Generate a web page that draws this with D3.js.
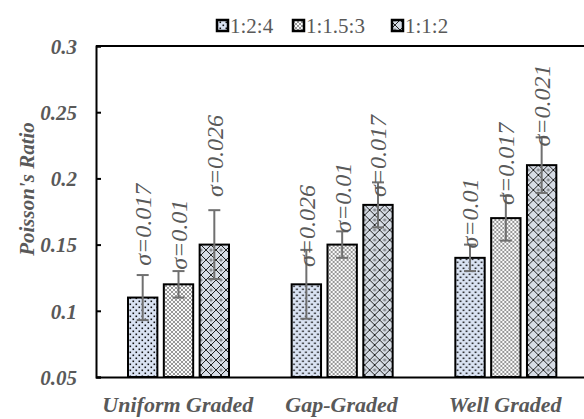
<!DOCTYPE html>
<html>
<head>
<meta charset="utf-8">
<script src="https://cdn.jsdelivr.net/npm/d3@7/dist/d3.min.js"></script>
<style>
  html, body { margin: 0; padding: 0; background: #fff; overflow: hidden; }
  svg { display: block; }
</style>
</head>
<body>
<svg id="chart" width="584" height="419"></svg>
<script>
// Poisson's ratio by gradation and mix proportion
const categories = ["Uniform Graded", "Gap-Graded", "Well Graded"];
const seriesNames = ["1:2:4", "1:1.5:3", "1:1:2"];
const mix124 = [0.11, 0.12, 0.14];
const mix1153 = [0.12, 0.15, 0.17];
const mix112 = [0.15, 0.18, 0.21];
const sigma124 = [0.017, 0.026, 0.01];
const sigma1153 = [0.01, 0.01, 0.017];
const sigma112 = [0.026, 0.017, 0.021];
// value at which each σ label begins
const labelAt124 = [0.134, 0.133, 0.147];
const labelAt1153 = [0.131, 0.159, 0.180];
const labelAt112 = [0.186, 0.186, 0.224];
const yTicks = [0.05, 0.1, 0.15, 0.2, 0.25, 0.3];
const yTickLabels = ["0.05", "0.1", "0.15", "0.2", "0.25", "0.3"];

const seriesValues = [mix124, mix1153, mix112];
const seriesSigma = [sigma124, sigma1153, sigma112];
const seriesLabelAt = [labelAt124, labelAt1153, labelAt112];

const svg = d3.select("#chart");
const serif = "\"Liberation Serif\", \"Times New Roman\", serif";
const grey = "#595959";

const plot = { left: 96, right: 587, top: 46, bottom: 377 };

const y = d3.scaleLinear().domain([0.05, 0.3]).range([plot.bottom, plot.top]);
const x0 = d3.scaleBand().domain(categories).range([plot.left, plot.right]).paddingInner(0).paddingOuter(0);
const groupInset = 32;
const x1 = d3.scaleBand().domain(seriesNames)
  .range([groupInset, groupInset + 101]).paddingInner(0.18).paddingOuter(0);

function textStyle(sel, size, bold, italic) {
  return sel.style("font-family", serif)
    .style("font-size", size + "px")
    .style("font-weight", bold ? "bold" : "normal")
    .style("font-style", italic ? "italic" : "normal")
    .attr("fill", grey);
}

// fill patterns
const defs = svg.append("defs");
const pDots = defs.append("pattern").attr("id", "pat-dots")
  .attr("patternUnits", "userSpaceOnUse").attr("width", 6).attr("height", 6);
pDots.append("rect").attr("width", 6).attr("height", 6).attr("fill", "#dae3f3");
pDots.append("rect").attr("x", 0.5).attr("y", 0.5).attr("width", 1.6).attr("height", 1.6).attr("fill", "#111");
pDots.append("rect").attr("x", 3.5).attr("y", 3.5).attr("width", 1.6).attr("height", 1.6).attr("fill", "#111");

const pGrid = defs.append("pattern").attr("id", "pat-grid")
  .attr("patternUnits", "userSpaceOnUse").attr("width", 4).attr("height", 4);
pGrid.append("rect").attr("width", 4).attr("height", 4).attr("fill", "#fafafa");
pGrid.append("path").attr("d", "M0,0L4,4M4,0L0,4").attr("stroke", "#555").attr("stroke-width", 0.6);

const pLattice = defs.append("pattern").attr("id", "pat-lattice")
  .attr("patternUnits", "userSpaceOnUse").attr("width", 10).attr("height", 10);
pLattice.append("rect").attr("width", 10).attr("height", 10).attr("fill", "#d6dce5");
pLattice.append("path").attr("d", "M0,0L10,10M10,0L0,10").attr("stroke", "#222").attr("stroke-width", 1);
pLattice.append("circle").attr("cx", 5).attr("cy", 0).attr("r", 1.1).attr("fill", "none").attr("stroke", "#333").attr("stroke-width", 0.6);
pLattice.append("circle").attr("cx", 5).attr("cy", 10).attr("r", 1.1).attr("fill", "none").attr("stroke", "#333").attr("stroke-width", 0.6);

const fills = ["url(#pat-dots)", "url(#pat-grid)", "url(#pat-lattice)"];

// top border
svg.append("line").attr("x1", plot.left).attr("x2", 584)
  .attr("y1", plot.top).attr("y2", plot.top).attr("stroke", "#000").attr("stroke-width", 2);

// y axis with inward ticks
const yAxis = d3.axisLeft(y).tickValues(yTicks).tickSize(-5).tickFormat((d, i) => yTickLabels[i]);
const yG = svg.append("g").attr("transform", `translate(${plot.left},0)`).call(yAxis);
yG.select(".domain").attr("stroke", "#000").attr("stroke-width", 2);
yG.selectAll(".tick line").attr("stroke", "#000").attr("stroke-width", 2);
textStyle(yG.selectAll(".tick text").attr("x", -19).attr("dy", "0.35em"), 21, true, true);

// x axis (category axis without ticks)
const xAxis = d3.axisBottom(x0).tickSize(0).tickSizeOuter(0).tickPadding(0);
const xG = svg.append("g").attr("transform", `translate(0,${plot.bottom})`).call(xAxis);
xG.select(".domain").attr("stroke", "#000").attr("stroke-width", 2);
textStyle(xG.selectAll(".tick text").attr("y", 35).attr("dy", 0), 22, true, true);

// axis title
textStyle(svg.append("text")
  .attr("transform", "translate(34,189) rotate(-90)")
  .attr("text-anchor", "middle"), 21, true, true)
  .text("Poisson's Ratio");

// bars, error bars and σ labels
const groups = svg.append("g").selectAll("g.grp")
  .data(categories).join("g").attr("class", "grp")
  .attr("transform", d => `translate(${x0(d)},0)`);

seriesNames.forEach((name, s) => {
  const bw = x1.bandwidth();
  groups.each(function(c, gi) {
    const v = seriesValues[s][gi], sd = seriesSigma[s][gi], la = seriesLabelAt[s][gi];
    const g = d3.select(this);
    const cx = x1(name) + bw / 2;
    g.append("rect")
      .attr("x", x1(name)).attr("width", bw)
      .attr("y", y(v)).attr("height", y(0.05) - y(v))
      .attr("fill", fills[s]).attr("stroke", "#000").attr("stroke-width", 2);
    const eb = g.append("g").attr("stroke", "#707070").attr("stroke-width", 2);
    eb.append("line").attr("x1", cx).attr("x2", cx).attr("y1", y(v - sd)).attr("y2", y(v + sd));
    eb.append("line").attr("x1", cx - 6).attr("x2", cx + 6).attr("y1", y(v + sd)).attr("y2", y(v + sd));
    eb.append("line").attr("x1", cx - 6).attr("x2", cx + 6).attr("y1", y(v - sd)).attr("y2", y(v - sd));
    textStyle(g.append("text")
      .attr("transform", `translate(${cx},${y(la)}) rotate(-90)`)
      .attr("dy", "0.35em")
      .attr("text-anchor", "start"), 24, false, true)
      .text("σ=" + sd);
  });
});

// legend
const legendX = [217, 293, 392];
const legend = svg.append("g");
seriesNames.forEach((name, s) => {
  legend.append("rect").attr("x", legendX[s]).attr("y", 20).attr("width", 11).attr("height", 11)
    .attr("fill", fills[s]).attr("stroke", "#000").attr("stroke-width", 2.5);
  textStyle(legend.append("text").attr("x", legendX[s] + 13).attr("y", 33), 21, false, false)
    .text(name);
});
</script>
</body>
</html>
